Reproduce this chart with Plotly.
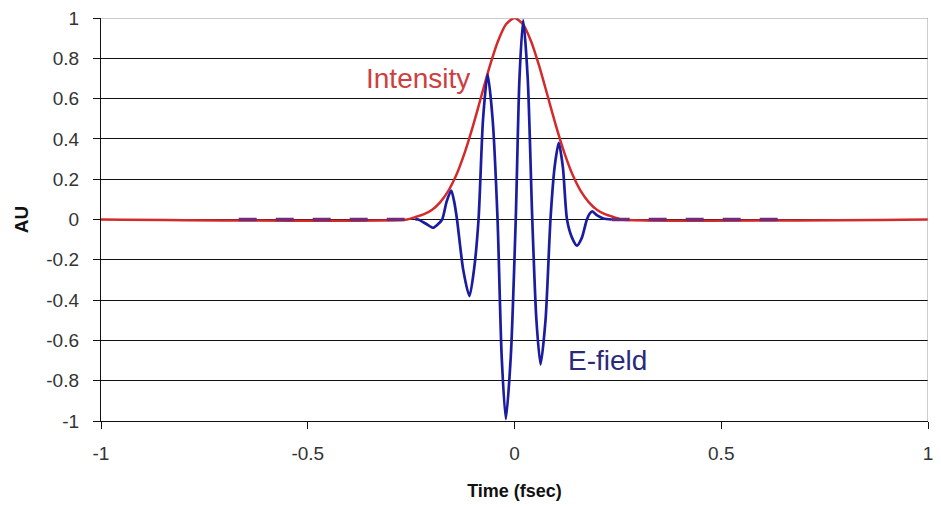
import plotly.graph_objects as go

# ---- data ----
intensity_x = [-1.0, -0.26, -0.24, -0.22, -0.20, -0.18, -0.16, -0.14, -0.12, -0.10, -0.08,
               -0.06, -0.04, -0.02, 0.0, 0.02, 0.04, 0.06, 0.08, 0.10, 0.12, 0.14, 0.16,
               0.18, 0.20, 0.22, 0.24, 0.26, 1.0]
intensity_y = [0.0, 0.0, 0.012, 0.025, 0.047, 0.085, 0.142, 0.224, 0.334, 0.467, 0.614,
               0.760, 0.885, 0.970, 1.0, 0.970, 0.885, 0.760, 0.614, 0.467, 0.334, 0.224, 0.142,
               0.085, 0.047, 0.025, 0.012, 0.0, 0.0]

efield_x = [-0.240, -0.233, -0.215, -0.197, -0.186, -0.175, -0.164, -0.153, -0.146, -0.139,
            -0.124, -0.109, -0.098, -0.087, -0.076, -0.065, -0.053, -0.041, -0.031, -0.021,
            -0.009, 0.003, 0.012, 0.021, 0.032, 0.043, 0.053, 0.063, 0.075, 0.087,
            0.097, 0.107, 0.117, 0.127, 0.139, 0.151, 0.163, 0.175, 0.182, 0.188,
            0.200, 0.215, 0.235]
efield_y = [0.0, 0.0, -0.02, -0.041, -0.025, 0.0, 0.09, 0.144, 0.09, 0.0,
            -0.25, -0.38, -0.25, 0.0, 0.50, 0.72, 0.50, 0.0, -0.68, -0.99,
            -0.68, 0.0, 0.70, 0.99, 0.70, 0.0, -0.50, -0.72, -0.50, 0.0,
            0.26, 0.38, 0.26, 0.0, -0.09, -0.13, -0.09, 0.0, 0.03, 0.04,
            0.02, 0.005, 0.0]

# flat (zero) tails of the E-field series
efield_tail_x = [-0.667, -0.240, None, 0.235, 0.667]
efield_tail_y = [0.0, 0.0, None, 0.0, 0.0]

x_ticks = [-1, -0.5, 0, 0.5, 1]
x_tick_text = ["-1", "-0.5", "0", "0.5", "1"]
y_ticks = [-1, -0.8, -0.6, -0.4, -0.2, 0, 0.2, 0.4, 0.6, 0.8, 1]
y_tick_text = ["-1", "-0.8", "-0.6", "-0.4", "-0.2", "0", "0.2", "0.4", "0.6", "0.8", "1"]

RED = "#d42a2a"
BLUE = "#1c1ca0"
FONT = "Liberation Sans, Arial, sans-serif"

fig = go.Figure()
fig.add_trace(go.Scatter(x=intensity_x, y=intensity_y, mode="lines", name="Intensity",
                         line=dict(color=RED, width=2.5, shape="spline", smoothing=0.6)))
fig.add_trace(go.Scatter(x=efield_tail_x, y=efield_tail_y, mode="lines", name="E-field tail",
                         line=dict(color="#702c78", width=3.5, dash="18px,19px"),
                         connectgaps=False))
fig.add_trace(go.Scatter(x=efield_x, y=efield_y, mode="lines", name="E-field",
                         line=dict(color=BLUE, width=2.7, shape="spline", smoothing=0.7)))

fig.add_annotation(x=-0.233, y=0.70, text="Intensity", showarrow=False,
                   font=dict(family=FONT, size=28, color="#cc4040"),
                   xanchor="center", yanchor="middle")
fig.add_annotation(x=0.226, y=-0.70, text="E-field", showarrow=False,
                   font=dict(family=FONT, size=28, color="#2a2a7a"),
                   xanchor="center", yanchor="middle")

# gray top and right frame
fig.add_shape(type="line", xref="x", yref="y", x0=-1, x1=1, y0=1, y1=1,
              line=dict(color="#9a9a9a", width=1), layer="above")
fig.add_shape(type="line", xref="x", yref="y", x0=1, x1=1, y0=-1, y1=1,
              line=dict(color="#9a9a9a", width=1), layer="above")

fig.update_layout(
    width=941, height=507,
    margin=dict(l=101, r=8, t=17, b=86),
    paper_bgcolor="white", plot_bgcolor="white",
    showlegend=False,
    font=dict(family=FONT, color="#222222"),
)
fig.update_xaxes(
    range=[-1, 1], tickvals=x_ticks, ticktext=x_tick_text,
    showgrid=False, zeroline=False,
    showline=True, linecolor="#111111", linewidth=1.3,
    ticks="outside", ticklen=7, tickcolor="#111111",
    tickfont=dict(family=FONT, size=19, color="#333333"),
    ticklabelstandoff=8,
    title=dict(text="<b>Time (fsec)</b>", font=dict(family=FONT, size=18, color="#111111"),
               standoff=21),
)
fig.update_yaxes(
    range=[-1, 1], tickvals=y_ticks, ticktext=y_tick_text,
    showgrid=True, gridcolor="#111111", gridwidth=1.3, zeroline=False,
    showline=True, linecolor="#111111", linewidth=1.3,
    ticks="outside", ticklen=7, tickcolor="#111111",
    tickfont=dict(family=FONT, size=19, color="#333333"),
    ticklabelstandoff=10,
    title=dict(text="<b>AU</b>", font=dict(family=FONT, size=19, color="#111111"),
               standoff=12),
)

fig.write_html("out.html")
